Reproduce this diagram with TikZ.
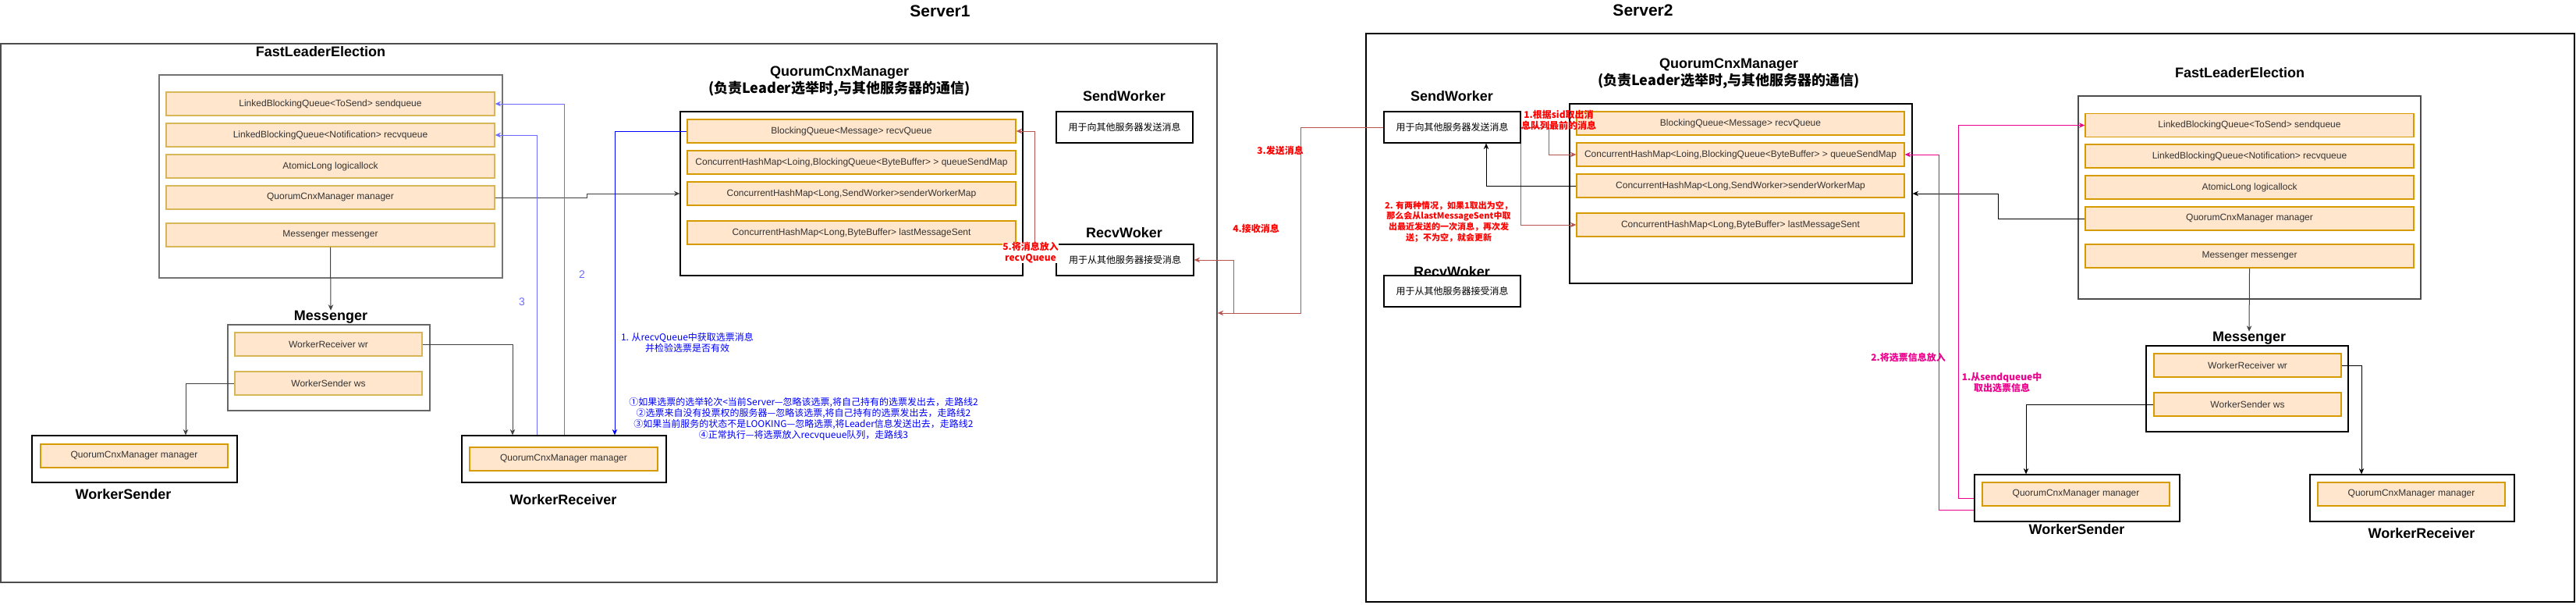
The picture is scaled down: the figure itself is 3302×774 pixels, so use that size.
\documentclass[tikz,border=0pt]{standalone}
\usepackage{fontspec}
\setmainfont{Liberation Sans}
\newfontfamily\cjk{Noto Sans CJK SC}
\usetikzlibrary{positioning,arrows.meta}
\definecolor{rowfill}{HTML}{FFE6CC}
\definecolor{rowline}{HTML}{D79B00}
\definecolor{rowgold}{HTML}{D6B656}
\definecolor{edgered}{HTML}{B85450}
\definecolor{paleblue}{HTML}{6C6CFF}

\begin{document}
\begin{tikzpicture}[x=1pt, y=-1pt, >={Stealth[length=7.5pt,width=6.5pt]},
        field/.style={draw=rowline, fill=rowfill, line width=1.2pt, minimum height=30, inner sep=0, text=black!80, font=\fontsize{12}{14}\selectfont},
        goldfield/.style={field, draw=rowgold},
        pane/.style={draw, fill=white, line width=1.2pt, inner sep=0},
        head/.style={font=\bfseries\fontsize{18}{22}\selectfont, inner sep=0, align=center},
        lbl/.style={font=\cjk\fontsize{12}{14}\selectfont, align=center, inner sep=0},
        redlbl/.style={lbl, text=red, font=\cjk\bfseries\fontsize{12}{14}\selectfont},
        conn/.style={->, line width=1pt}]
        \useasboundingbox (0,0) rectangle (3302,774);

        % Server1
        \node[pane, draw=black!70, line width=1.5pt, minimum width=1559, minimum height=690] (S1) at (780.5,401) {};
        \node[head, font=\bfseries\fontsize{21}{25}\selectfont] (S1t) at (1205,14) {Server1};

        \node[head] (S1Ft) at (411,66) {FastLeaderElection};
        \node[pane, draw=black!55, line width=1.8pt, minimum width=440, minimum height=260] (S1F) at (424,226) {};
        \node[goldfield, minimum width=421] (S1F1) at (423.5,133) {LinkedBlockingQueue<ToSend> sendqueue};
        \node[goldfield, minimum width=421] (S1F2) at (423.5,173) {LinkedBlockingQueue<Notification> recvqueue};
        \node[goldfield, minimum width=421] (S1F3) at (423.5,213) {AtomicLong logicallock};
        \node[goldfield, minimum width=421] (S1F4) at (423.5,253) {QuorumCnxManager manager};
        \node[goldfield, minimum width=421] (S1F5) at (423.5,301) {Messenger messenger};

        \node[head] (S1Mt) at (424,406) {Messenger};
        \node[pane, draw=black!60, minimum width=259, minimum height=110] (S1M) at (421.5,471) {};
        \node[goldfield, minimum width=240] (S1M1) at (421,441) {WorkerReceiver wr};
        \node[goldfield, minimum width=240] (S1M2) at (421,491) {WorkerSender ws};

        \node[pane, minimum width=263, minimum height=60] (S1WS) at (172.5,588) {};
        \node[field, minimum width=240] (S1WS1) at (172,584) {QuorumCnxManager manager};
        \node[head] (S1WSt) at (158,633) {WorkerSender};

        \node[pane, minimum width=262, minimum height=60] (S1WR) at (723,588) {};
        \node[field, minimum width=241] (S1WR1) at (722.5,588) {QuorumCnxManager manager};
        \node[head] (S1WRt) at (722,640) {WorkerReceiver};

        \node[head] (S1Qt) at (1076,104) {QuorumCnxManager\\{\cjk (负责Leader选举时,与其他服务器的通信)}};
        \node[pane, minimum width=439, minimum height=210] (S1Q) at (1091.5,248) {};
        \node[field, minimum width=421] (S1Q1) at (1091.5,168) {BlockingQueue<Message> recvQueue};
        \node[field, minimum width=421] (S1Q2) at (1091.5,208) {ConcurrentHashMap<Loing,BlockingQueue<ByteBuffer> > queueSendMap};
        \node[field, minimum width=421] (S1Q3) at (1091.5,248) {ConcurrentHashMap<Long,SendWorker>senderWorkerMap};
        \node[field, minimum width=421] (S1Q4) at (1091.5,298) {ConcurrentHashMap<Long,ByteBuffer> lastMessageSent};

        \node[head] (S1SWt) at (1441,123) {SendWorker};
        \node[pane, lbl, minimum width=175, minimum height=40] (S1SW) at (1441.5,163) {用于向其他服务器发送消息};
        \node[head] (S1RWt) at (1441,298) {RecvWoker};
        \node[pane, lbl, minimum width=176, minimum height=40] (S1RW) at (1442,333) {用于从其他服务器接受消息};

        % Server2
        \node[pane, minimum width=1549, minimum height=728] (S2) at (2525.5,407) {};
        \node[head, font=\bfseries\fontsize{21}{25}\selectfont] (S2t) at (2106,13) {Server2};

        \node[head] (S2Qt) at (2216,94) {QuorumCnxManager\\{\cjk (负责Leader选举时,与其他服务器的通信)}};
        \node[pane, minimum width=439, minimum height=230] (S2Q) at (2231.5,248) {};
        \node[field, minimum width=420] (S2Q1) at (2231,158) {BlockingQueue<Message> recvQueue};
        \node[field, minimum width=420] (S2Q2) at (2231,198) {ConcurrentHashMap<Loing,BlockingQueue<ByteBuffer> > queueSendMap};
        \node[field, minimum width=420] (S2Q3) at (2231,238) {ConcurrentHashMap<Long,SendWorker>senderWorkerMap};
        \node[field, minimum width=420] (S2Q4) at (2231,288) {ConcurrentHashMap<Long,ByteBuffer> lastMessageSent};

        \node[head] (S2SWt) at (1861,123) {SendWorker};
        \node[pane, lbl, minimum width=175, minimum height=40] (S2SW) at (1861.5,163) {用于向其他服务器发送消息};
        \node[head] (S2RWt) at (1861,348) {RecvWoker};
        \node[pane, lbl, minimum width=175, minimum height=40] (S2RW) at (1861.5,373) {用于从其他服务器接受消息};

        \node[head] (S2Ft) at (2871,93) {FastLeaderElection};
        \node[pane, draw=black!70, minimum width=439, minimum height=260] (S2F) at (2883.5,253) {};
        \node[field, minimum width=421] (S2F1) at (2883.5,160.5) {LinkedBlockingQueue<ToSend> sendqueue};
        \node[field, minimum width=421] (S2F2) at (2883.5,200) {LinkedBlockingQueue<Notification> recvqueue};
        \node[field, minimum width=421] (S2F3) at (2883.5,240) {AtomicLong logicallock};
        \node[field, minimum width=421] (S2F4) at (2883.5,280) {QuorumCnxManager manager};
        \node[field, minimum width=421] (S2F5) at (2883.5,328) {Messenger messenger};

        \node[head] (S2Mt) at (2883,433) {Messenger};
        \node[pane, minimum width=259, minimum height=110] (S2M) at (2880.5,498) {};
        \node[field, minimum width=240] (S2M1) at (2881,468) {WorkerReceiver wr};
        \node[field, minimum width=240] (S2M2) at (2881,518) {WorkerSender ws};

        \node[pane, minimum width=263, minimum height=60] (S2WS) at (2662.5,638) {};
        \node[field, minimum width=240] (S2WS1) at (2661,633) {QuorumCnxManager manager};
        \node[head] (S2WSt) at (2662,678) {WorkerSender};

        \node[pane, minimum width=262, minimum height=60] (S2WR) at (3092,638) {};
        \node[field, minimum width=240] (S2WR1) at (3091,633) {QuorumCnxManager manager};
        \node[head] (S2WRt) at (3104,683) {WorkerReceiver};

        % Server1 edges
        \draw[conn, black!75] (S1F4.east) -- ++(118,0) |- (S1Q.west);
        \draw[conn, black!75] (S1F5.south) -- (S1Mt.north);
        \draw[conn, black!75] (S1M2.west) -| (238,0 |- S1WS.north);
        \draw[conn, black!75] (S1M1.east) -| (657,0 |- S1WR.north);
        \draw[conn, paleblue] (S1WR.north) |- (S1F1.east);
        \draw[conn, paleblue] (688,0 |- S1WR.north) |- (S1F2.east);
        \draw[conn, blue] (S1Q1.west) -| (788,0 |- S1WR.north);
        \draw[conn, edgered] (S1RW.west) -- ++(-27,0) |- (S1Q1.east);

        % between the servers
        \coordinate (R4) at (1581,401);
        \draw[conn, edgered] (S2SW.west) -- ++(-106,0) |- (S1.east);
        \draw[conn, edgered] (R4) |- (S1RW.east);

        % Server2 edges
        \draw[conn, edgered] (S2SW.east) -- ++(36,0) |- (S2Q2.west);
        \draw[conn, edgered] (S2SW.south east) |- (S2Q4.west);
        \draw[conn] (S2Q3.west) -| (1905,0 |- S2SW.south);
        \draw[conn] (S2F4.west) -- ++(-111,0) |- (S2Q.east);
        \draw[conn, black!75] (S2F5.south) -- (S2Mt.north);
        \draw[conn] (S2M2.west) -| (2597,0 |- S2WS.north);
        \draw[conn] (S2M1.east) -| (3027,0 |- S2WR.north);
        \draw[conn, magenta] (S2WS.west) -- ++(-20,0) |- (S2F1.west);
        \draw[conn, magenta] ([yshift=-15pt]S2WS.west) -- ++(-45,0) |- (S2Q2.east);

        % labels
        \node[lbl, text=paleblue, font=\fontsize{14}{16}\selectfont] (L2) at (746,352) {2};
        \node[lbl, text=paleblue, font=\fontsize{14}{16}\selectfont] (L3) at (669,387) {3};
        \node[lbl, text=blue] (L1) at (881,439) {1. 从recvQueue中获取选票消息\\并检验选票是否有效};
        \node[lbl, text=blue] (Lcase) at (1030,537) {①如果选票的选举轮次<当前Server—忽略该选票,将自己持有的选票发出去，走路线2\\②选票来自没有投票权的服务器—忽略该选票,将自己持有的选票发出去，走路线2\\③如果当前服务的状态不是LOOKING—忽略选票,将Leader信息发送出去，走路线2\\④正常执行—将选票放入recvqueue队列，走路线3};
        \node[redlbl, fill=white] (L5) at (1321,324) {5.将消息放入\\recvQueue};
        \node[redlbl] (Lsend) at (1641,193) {3.发送消息};
        \node[redlbl] (Lrecv) at (1610,293) {4.接收消息};
        \node[redlbl] (Lsid) at (1998,154) {1.根据sid取出消\\息队列最前的消息};
        \node[redlbl, font=\cjk\bfseries\fontsize{11}{13.7}\selectfont] (Llast) at (1857,284) {2. 有两种情况，如果1取出为空，\\那么会从lastMessageSent中取\\出最近发送的一次消息，再次发\\送；不为空，就会更新};
        \node[redlbl, text=magenta] (Lput) at (2446,458) {2.将选票信息放入};
        \node[redlbl, text=magenta] (Ltake) at (2566,490) {1.从sendqueue中\\取出选票信息};
\end{tikzpicture}
\end{document}
